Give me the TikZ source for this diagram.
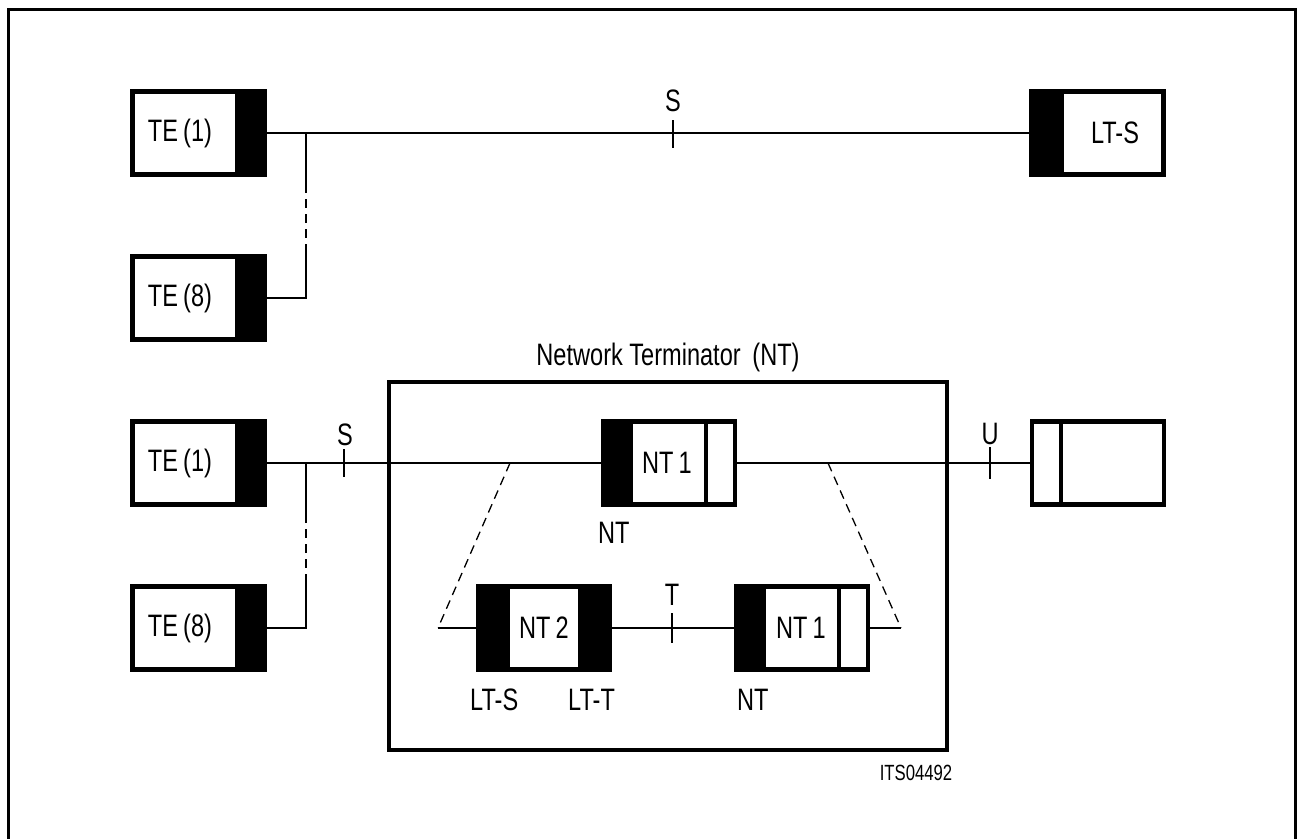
\documentclass[tikz,border=0pt]{standalone}
\usepackage{fontspec}
\setmainfont{Liberation Sans}[FakeStretch=0.76]
\begin{document}
\begin{tikzpicture}[x=1pt,y=-1pt,
  lbl/.style={font=\fontsize{31}{36}\selectfont, inner sep=0pt},
  small/.style={font=\fontsize{22}{26}\selectfont, inner sep=0pt},
  unit/.style={draw, line width=4.5pt, minimum width=132pt, minimum height=83pt, inner sep=0pt},
  te/.style={unit, path picture={\fill ([xshift=-30pt]path picture bounding box.north east) rectangle (path picture bounding box.south east);}},
  lts/.style={unit, path picture={\fill (path picture bounding box.north west) rectangle ([xshift=32pt]path picture bounding box.south west);}},
  ntone/.style={unit, path picture={\fill (path picture bounding box.north west) rectangle ([xshift=30pt]path picture bounding box.south west);
     \draw[line width=4.5pt] ([xshift=-29pt]path picture bounding box.north east) -- ([xshift=-29pt]path picture bounding box.south east);}},
  nttwo/.style={unit, path picture={\fill (path picture bounding box.north west) rectangle ([xshift=32pt]path picture bounding box.south west);
     \fill ([xshift=-32pt]path picture bounding box.north east) rectangle (path picture bounding box.south east);}},
  ubox/.style={unit, path picture={\draw[line width=4.5pt] ([xshift=29pt]path picture bounding box.north west) -- ([xshift=29pt]path picture bounding box.south west);}},
  wire/.style={line width=1.3pt},
  dwire/.style={line width=1.3pt, dash pattern=on 9pt off 6pt}
]
\useasboundingbox (0,0) rectangle (1298,838);
% outer frame (open at bottom)
\draw[line width=3pt] (8.5,840) -- (8.5,9.5) -- (1295.5,9.5) -- (1295.5,840);

% ---------- top row ----------
\node[te] (te1a) at (198.5,133) {};
\node[lbl] (te1at) at (180,133) {TE\,(1)};
\node[te] (te8a) at (198.5,298) {};
\node[lbl] (te8at) at (180,298) {TE\,(8)};
\node[lts] (ltsa) at (1097.5,133) {};
\node[lbl] (ltsat) at (1115,133) {LT-S};

\draw[wire] (te1a.east) -- (ltsa.west);
\coordinate (ba) at (306,133);
\coordinate (ba1) at (306,184);
\coordinate (ba2) at (306,252);
\draw[wire] (ba) -- (ba1);
\draw[dwire] (ba1) -- (ba2);
\draw[wire] (ba2) |- (te8a.east);
\coordinate (sat) at (673,120);
\coordinate (sab) at (673,148);
\draw[wire] (sat) -- (sab);
\node[lbl] (sal) at (673,101) {S};

% ---------- bottom row ----------
\node[te] (te1b) at (198.5,463) {};
\node[lbl] (te1bt) at (180,463) {TE\,(1)};
\node[te] (te8b) at (198.5,628) {};
\node[lbl] (te8bt) at (180,628) {TE\,(8)};

\coordinate (bb) at (306,463);
\coordinate (bb1) at (306,514);
\coordinate (bb2) at (306,582);
\draw[wire] (bb) -- (bb1);
\draw[dwire] (bb1) -- (bb2);
\draw[wire] (bb2) |- (te8b.east);

\node[draw, line width=4pt, minimum width=558pt, minimum height=368pt, inner sep=0pt] (ntbox) at (668,566) {};
\node[lbl] (ntboxl) at (668,357) {Network Terminator\, (NT)};

\node[ntone] (nt1u) at (669,463) {};
\node[lbl] (nt1ut) at (667,463) {NT\,1};
\node[lbl, anchor=west] (nt1ul) at (598,533) {NT};

\node[ubox] (ub) at (1098,463) {};

\draw[wire] (te1b.east) -- (nt1u.west);
\draw[wire] (nt1u.east) -- (ub.west);

\coordinate (sbt) at (344,449);
\coordinate (sbb) at (344,477);
\draw[wire] (sbt) -- (sbb);
\node[lbl] (sbl) at (345,435) {S};
\coordinate (ubt) at (990,447);
\coordinate (ubb) at (990,479);
\draw[wire] (ubt) -- (ubb);
\node[lbl] (ubl) at (990,434) {U};

% NT2 variant
\coordinate (dl1) at (510,463);
\coordinate (dl2) at (438,628);
\coordinate (dr1) at (828,463);
\coordinate (dr2) at (901,628);
\draw[dwire] (dl1) -- (dl2);
\draw[dwire] (dr1) -- (dr2);

\node[nttwo] (nt2) at (544,628) {};
\node[lbl] (nt2t) at (544,628) {NT\,2};
\node[ntone] (nt1l) at (802,628) {};
\node[lbl] (nt1lt) at (801,628) {NT\,1};

\draw[wire] (dl2) -- (nt2.west);
\draw[wire] (nt2.east) -- (nt1l.west);
\draw[wire] (nt1l.east) -- (dr2);

\coordinate (tt) at (672,613);
\coordinate (tb) at (672,643);
\draw[wire] (tt) -- (tb);
\node[lbl] (tl) at (672,595) {T};

\node[lbl, anchor=west] (ltsl) at (470,700) {LT-S};
\node[lbl, anchor=west] (lttl) at (568,700) {LT-T};
\node[lbl, anchor=west] (ntl) at (737,700) {NT};

\node[small] (its) at (916,773) {ITS04492};
\end{tikzpicture}
\end{document}
